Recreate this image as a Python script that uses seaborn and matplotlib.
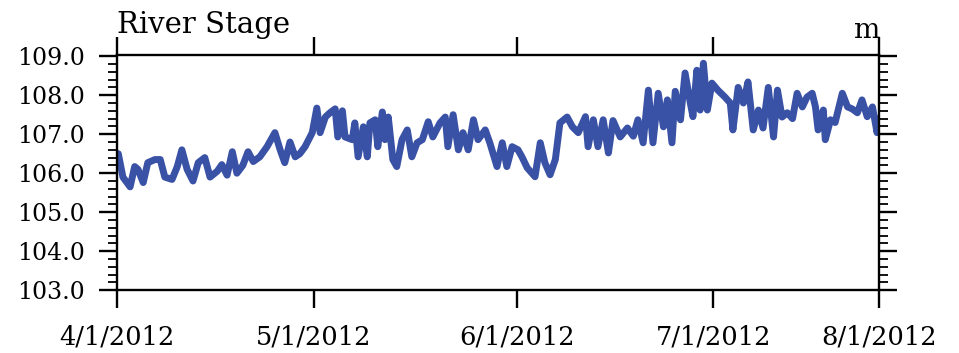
import pandas as pd
import seaborn as sns
import matplotlib
matplotlib.use("Agg")
import matplotlib.pyplot as plt
from matplotlib.ticker import MultipleLocator

# river stage (m), days since 4/1/2012
days = [0.2, 0.9, 2.0, 2.7, 3.2, 4.0, 4.7, 5.8, 6.6, 7.3,
        8.4, 9.2, 9.9, 10.7, 11.6, 12.4, 13.4, 14.2, 15.3, 16.0,
        16.8, 17.6, 18.3, 19.2, 20.0, 20.8, 21.8, 22.9, 24.1, 24.9,
        25.6, 26.4, 27.2, 27.9,
        28.7, 29.8, 30.5, 31.0, 31.8, 32.5, 33.3, 33.7, 34.4, 34.8,
        35.9, 36.3, 36.8, 37.6, 38.2, 38.6, 39.4, 39.8, 40.5, 40.9,
        41.4, 42.1, 42.7, 43.5, 44.3, 45.0, 45.8, 46.6, 47.5, 48.2,
        49.3, 50.1, 50.5, 51.3, 52.1, 52.8, 53.6, 54.4, 55.1, 56.2,
        56.9, 58.0, 58.8, 59.5, 60.3, 61.2,
        61.8, 62.6, 63.8, 64.6, 65.3, 66.1, 66.9, 67.6, 68.7, 69.5,
        70.4, 71.5, 71.9, 72.7, 73.4, 74.2, 75.0, 75.7, 76.8, 77.9,
        78.8, 79.5, 80.3, 81.1, 81.8, 82.6, 83.4, 84.0, 84.7, 85.2,
        86.0, 86.7, 87.5, 87.9, 88.5, 89.0, 89.5, 90.1, 90.8, 91.7,
        92.8, 93.6, 94.0, 94.8, 95.6, 96.3, 97.1, 97.9, 98.6, 99.4,
        100.2, 100.8, 101.5, 102.3, 103.1, 103.8, 104.6, 105.3, 106.1, 106.6,
        107.0, 107.8, 108.1, 108.9, 109.6, 110.7, 111.5, 112.2, 113.0, 113.7,
        114.5, 115.3, 116.0, 116.3]
stage = [106.5, 105.9, 105.65, 106.17, 106.1, 105.76, 106.27, 106.35, 106.35, 105.9,
         105.84, 106.17, 106.6, 106.1, 105.8, 106.27, 106.4, 105.9, 106.05, 106.22,
         105.95, 106.55, 106.0, 106.2, 106.55, 106.3, 106.42, 106.68, 107.04, 106.6,
         106.27, 106.8, 106.42, 106.5,
         106.68, 107.04, 107.67, 107.04, 107.44, 107.55, 107.65, 106.93, 107.6, 106.93,
         106.86, 107.29, 106.42, 107.19, 106.42, 107.29, 107.37, 106.68, 107.57, 106.86,
         107.44, 106.35, 106.17, 106.86, 107.11, 106.42, 106.78, 106.86, 107.32, 106.93,
         107.29, 107.44, 106.68, 107.5, 106.6, 107.04, 106.6, 107.37, 106.86, 107.11,
         106.78, 106.17, 106.78, 106.17, 106.68, 106.6,
         106.42, 106.14, 105.91, 106.78, 106.27, 105.96, 106.35, 107.29, 107.44, 107.19,
         107.04, 107.45, 106.68, 107.37, 106.68, 107.37, 106.52, 107.35, 106.93, 107.16,
         106.95, 107.37, 106.78, 108.13, 106.78, 108.05, 107.19, 107.88, 106.78, 108.1,
         107.37, 108.57, 107.8, 107.45, 108.64, 107.62, 108.82, 107.62, 108.31, 108.13,
         107.95, 107.8, 107.11, 108.2, 107.8, 108.34, 107.11, 107.62, 107.16, 108.2,
         106.93, 108.13, 107.44, 107.55, 107.4, 108.05, 107.7, 107.95, 108.05, 107.7,
         107.11, 107.62, 106.86, 107.37, 107.3, 108.05, 107.7, 107.65, 107.55, 107.88,
         107.45, 107.7, 107.04, 107.4]

xtick_dates = ["2012-04-01", "2012-05-01", "2012-06-01", "2012-07-01"]
xtick_labels = ["4/1/2012", "5/1/2012", "6/1/2012", "7/1/2012", "8/1/2012"]
ytick_vals = [103, 104, 105, 106, 107, 108, 109]
ytick_labels = ["103.0", "104.0", "105.0", "106.0", "107.0", "108.0", "109.0"]

start = pd.Timestamp("2012-04-01")
end = start + pd.Timedelta(days=days[-1])
df = pd.DataFrame({"date": start + pd.to_timedelta(days, unit="D"), "stage": stage})

sns.set_style("ticks")
plt.rcParams["font.family"] = ["DejaVu Serif"]
plt.rcParams["text.color"] = "black"
plt.rcParams["xtick.color"] = "black"
plt.rcParams["ytick.color"] = "black"

fig = plt.figure(figsize=(9.59, 3.53), dpi=100)
ax = fig.add_axes([0.122, 0.178, 0.7946, 0.666])
sns.lineplot(data=df, x="date", y="stage", ax=ax, color="#3a52a6", linewidth=5)
for ln in ax.get_lines():
    ln.set_solid_joinstyle("round")
    ln.set_solid_capstyle("round")

ax.set_xlim(start, end)
ax.set_ylim(103, 109.03)
ax.set_xticks(list(pd.to_datetime(xtick_dates)) + [end])
ax.set_xticklabels(xtick_labels, fontsize=18.5)
ax.set_yticks(ytick_vals)
ax.set_yticklabels(ytick_labels, fontsize=17)
ax.yaxis.set_minor_locator(MultipleLocator(0.2))
ax.set_xlabel("")
ax.set_ylabel("")

ax.tick_params(axis="both", which="major", direction="out", length=13, width=1.7,
               top=True, right=True, colors="black")
ax.tick_params(axis="x", which="major", pad=12)
ax.tick_params(axis="y", which="major", pad=10)
ax.tick_params(axis="y", which="minor", direction="out", length=6.5, width=1.3,
               left=True, right=True, colors="black")
ax.tick_params(axis="x", which="minor", bottom=False, top=False)
for s in ax.spines.values():
    s.set_visible(True)
    s.set_linewidth(1.7)
    s.set_color("black")

ax.annotate("River Stage", xy=(0, 1), xycoords="axes fraction", xytext=(0, 16),
            textcoords="offset points", ha="left", va="baseline", fontsize=21)
ax.annotate("m", xy=(1, 1), xycoords="axes fraction", xytext=(0, 12),
            textcoords="offset points", ha="right", va="baseline", fontsize=20)

fig.savefig("out.png", dpi=100)
